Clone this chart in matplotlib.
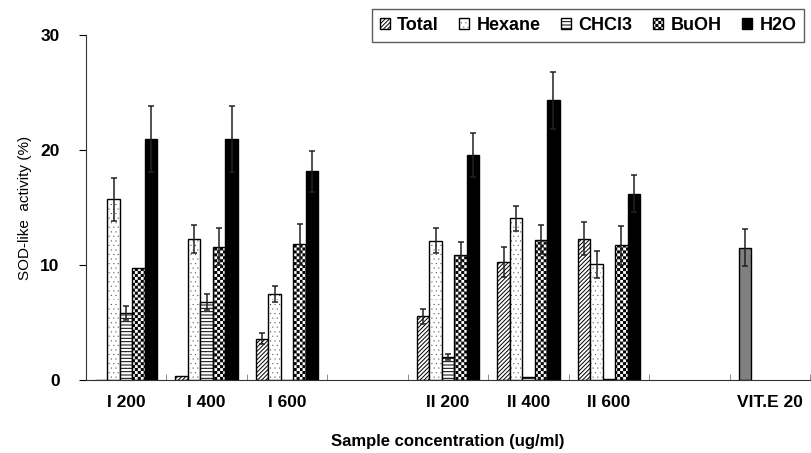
import numpy as np
import matplotlib.pyplot as plt
import matplotlib.hatch as mhatch
from matplotlib.path import Path

plt.rcParams['font.family'] = ['Liberation Sans', 'DejaVu Sans']
plt.rcParams['hatch.linewidth'] = 0.7

categories = ['I 200', 'I 400', 'I 600', '', 'II 200', 'II 400', 'II 600', '', 'VIT.E 20']
series = ['Total', 'Hexane', 'CHCl3', 'BuOH', 'H2O']

# values per category (NaN = no bar)
total = [0.0, 0.35, 3.6, np.nan, 5.55, 10.3, 12.3, np.nan, 11.5]
hexane = [15.7, 12.25, 7.45, np.nan, 12.1, 14.05, 10.05, np.nan, np.nan]
chcl3 = [5.85, 6.8, 0.0, np.nan, 2.0, 0.25, 0.1, np.nan, np.nan]
buoh = [9.7, 11.6, 11.8, np.nan, 10.85, 12.2, 11.7, np.nan, np.nan]
h2o = [20.95, 20.95, 18.15, np.nan, 19.55, 24.3, 16.2, np.nan, np.nan]

total_err = [0, 0, 0.45, 0, 0.65, 1.3, 1.45, 0, 1.6]
hexane_err = [1.85, 1.25, 0.7, 0, 1.1, 1.1, 1.15, 0, 0]
chcl3_err = [0.6, 0.7, 0, 0, 0.25, 0, 0, 0, 0]
buoh_err = [0, 1.6, 1.8, 0, 1.15, 1.25, 1.7, 0, 0]
h2o_err = [2.9, 2.9, 1.8, 0, 1.9, 2.5, 1.6, 0, 0]


# small square fill patterns: tiny dots ('.') and a checkerboard ('O')
class SquareGrid(mhatch.HatchPatternBase):
    char, n, side, checker = '.', 20, 0.002, False

    def __init__(self, hatch, density):
        self.cells = []
        if self.char in hatch:
            for i in range(self.n):
                for j in range(self.n):
                    if self.checker and (i + j) % 2:
                        continue
                    if not self.checker and i % 2:
                        x0 = (j + 0.5) / self.n
                    else:
                        x0 = j / self.n
                    self.cells.append((x0, i / self.n))
        self.num_vertices = 5 * len(self.cells)

    def set_vertices_and_codes(self, vertices, codes):
        s = self.side
        for k, (x0, y0) in enumerate(self.cells):
            vertices[5 * k:5 * k + 5] = [(x0, y0), (x0 + s, y0), (x0 + s, y0 + s),
                                         (x0, y0 + s), (x0, y0)]
            codes[5 * k:5 * k + 5] = [Path.MOVETO, Path.LINETO, Path.LINETO,
                                      Path.LINETO, Path.CLOSEPOLY]


class TinyDots(SquareGrid):
    char, n, side, checker = '.', 22, 0.001, False


class Checker(SquareGrid):
    char, n, side, checker = 'O', 34, 1 / 34 - 0.009, True


types = mhatch._hatch_types
types[types.index(mhatch.SmallFilledCircles)] = TinyDots
types[types.index(mhatch.LargeCircles)] = Checker

values = [total, hexane, chcl3, buoh, h2o]
errors = [total_err, hexane_err, chcl3_err, buoh_err, h2o_err]
hatches = ['////////', '.', '-----', 'O', None]
faces = ['white', 'white', 'white', 'white', 'black']

fig, ax = plt.subplots(figsize=(8.11, 4.53), dpi=100)
fig.subplots_adjust(left=0.106, right=0.999, bottom=0.161, top=0.923)

x = np.arange(len(categories))
w = 0.155
for i, (vals, errs) in enumerate(zip(values, errors)):
    pos = x - 2 * w + i * w
    bars = ax.bar(pos, vals, w, color=faces[i], edgecolor='black', linewidth=1.0,
                  hatch=hatches[i], label=series[i], zorder=2)
    e = np.array(errs, dtype=float)
    v = np.array(vals, dtype=float)
    m = (e > 0) & ~np.isnan(v)
    ax.errorbar(pos[m], v[m], yerr=e[m], fmt='none', ecolor='#222222',
                elinewidth=1.1, capsize=2.5, capthick=1.1, zorder=3)
    if i == 0:
        # VIT.E bar is solid gray
        bars[-1].set_hatch(None)
        bars[-1].set_facecolor('#808080')

ax.set_xlim(-0.5, len(categories) - 0.5)
ax.set_ylim(0, 30)
ax.set_yticks([0, 10, 20, 30])
ax.set_xticks(x)
ax.set_xticklabels(categories)
ax.set_xticks(np.arange(len(categories)) + 0.5, minor=True)
ax.tick_params(axis='x', which='major', length=0, pad=11)
ax.tick_params(axis='x', which='minor', direction='in', length=4, color='#777777')
ax.tick_params(axis='y', direction='out', length=5, width=0.8, pad=14)
for lab in ax.get_xticklabels() + ax.get_yticklabels():
    lab.set_fontweight('bold')
    lab.set_fontsize(12.5)

ax.spines['top'].set_visible(False)
ax.spines['right'].set_visible(False)
ax.spines['left'].set_color('#333333')
ax.spines['bottom'].set_color('#333333')

ax.set_ylabel('SOD-like  activity (%)', fontsize=11, labelpad=6)
ax.set_xlabel('Sample concentration (ug/ml)', fontsize=12, fontweight='bold', labelpad=17)

leg = ax.legend(ncol=5, loc='upper right', bbox_to_anchor=(0.992, 1.075),
                borderaxespad=0, frameon=True, fancybox=False, edgecolor='#333333',
                handlelength=0.55, handleheight=0.55, handletextpad=0.4,
                columnspacing=1.15, borderpad=0.45,
                prop={'weight': 'bold', 'size': 13})
leg.get_frame().set_linewidth(1.0)

fig.savefig('out.png', dpi=100)
